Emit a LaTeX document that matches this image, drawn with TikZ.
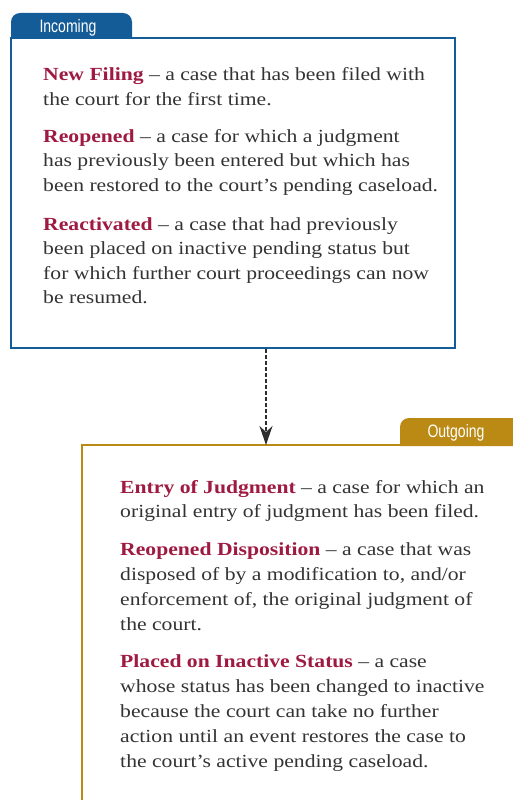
\documentclass[tikz,border=0pt]{standalone}
\usepackage{fontspec}
\setmainfont{Liberation Serif}
\newfontfamily\tabfont{Liberation Sans}
\usetikzlibrary{arrows.meta}
\definecolor{inblue}{RGB}{20,92,152}
\definecolor{outgold}{RGB}{186,138,20}
\definecolor{termred}{RGB}{158,26,66}
\definecolor{bodytext}{RGB}{51,51,51}
\definecolor{arrowgray}{RGB}{45,45,45}
\newcommand{\trm}[1]{{\bfseries\color{termred}#1}}
\begin{document}
\begin{tikzpicture}[x=1pt,y=-1pt,
  txtline/.style={anchor=base west, inner sep=0pt, font=\fontsize{18.5}{20}\selectfont, text=bodytext, xscale=1.17, transform shape},
  tablabel/.style={anchor=base, inner sep=0pt, text=white, font=\tabfont\fontsize{18}{20}\selectfont, xscale=0.78, transform shape}]
\useasboundingbox (0,0) rectangle (513,800);
% Incoming tab and box
\fill[inblue] (11,39) [rounded corners=9pt] -- (11,13) -- (132,13) [sharp corners] -- (132,39) -- cycle;
\node[tablabel] (intab) at (68,33) {Incoming};
\draw[inblue, line width=1.6pt] (11,38) rectangle (455,348);
% Outgoing tab and box
\fill[outgold] (400,446) [rounded corners=9pt] -- (400,418) [sharp corners] -- (514,418) -- (514,446) -- cycle;
\node[tablabel] (outtab) at (456,437) {Outgoing};
\draw[outgold, line width=1.6pt] (82,802) -- (82,445) -- (515,445);
% connector
\coordinate (inbot) at (266,349);
\coordinate (outtop) at (266,445);
\draw[arrowgray, line width=1.1pt, dash pattern=on 4pt off 2pt, -{Stealth[length=19pt,width=13pt,inset=6pt]}] (inbot) -- (outtop);
% Incoming text
\node[txtline] (a1) at (43,81) {\trm{New Filing} -- a case that has been filed with};
\node[txtline] (a2) at (43,105.5) {the court for the first time.};
\node[txtline] (b1) at (43,142) {\trm{Reopened} -- a case for which a judgment};
\node[txtline] (b2) at (43,166.5) {has previously been entered but which has};
\node[txtline] (b3) at (43,191) {been restored to the court’s pending caseload.};
\node[txtline] (c1) at (43,230) {\trm{Reactivated} -- a case that had previously};
\node[txtline] (c2) at (43,254.5) {been placed on inactive pending status but};
\node[txtline] (c3) at (43,279) {for which further court proceedings can now};
\node[txtline] (c4) at (43,303.5) {be resumed.};
% Outgoing text
\node[txtline] (d1) at (120,493) {\trm{Entry of Judgment} -- a case for which an};
\node[txtline] (d2) at (120,517.5) {original entry of judgment has been filed.};
\node[txtline] (e1) at (120,555) {\trm{Reopened Disposition} -- a case that was};
\node[txtline] (e2) at (120,580) {disposed of by a modification to, and/or};
\node[txtline] (e3) at (120,605) {enforcement of, the original judgment of};
\node[txtline] (e4) at (120,630) {the court.};
\node[txtline] (f1) at (120,667) {\trm{Placed on Inactive Status} -- a case};
\node[txtline] (f2) at (120,692) {whose status has been changed to inactive};
\node[txtline] (f3) at (120,717) {because the court can take no further};
\node[txtline] (f4) at (120,742) {action until an event restores the case to};
\node[txtline] (f5) at (120,767) {the court’s active pending caseload.};
\end{tikzpicture}
\end{document}
